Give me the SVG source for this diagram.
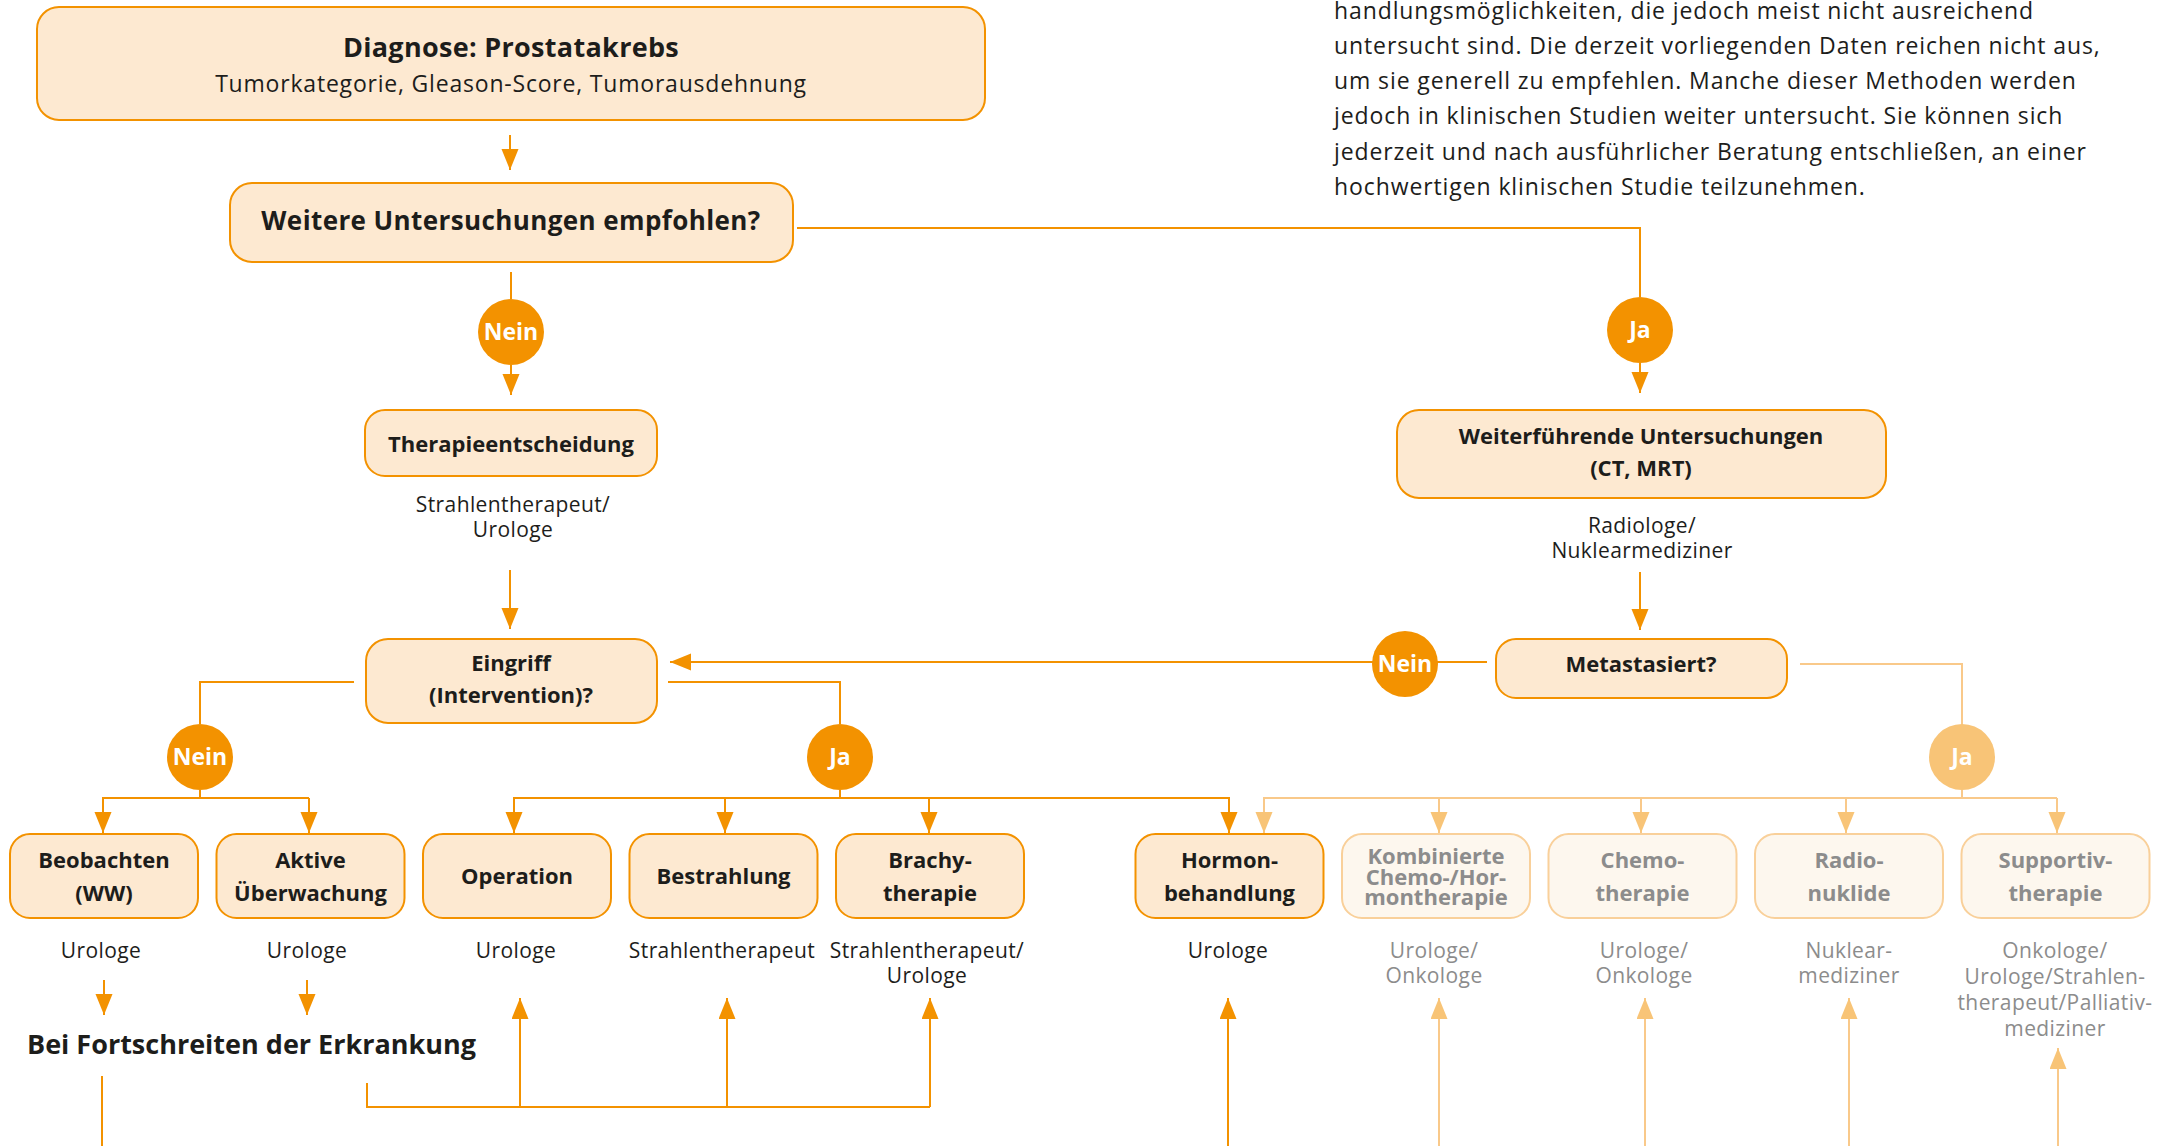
<svg xmlns="http://www.w3.org/2000/svg" width="2166" height="1146" viewBox="0 0 2166 1146">
<defs>
<marker id="ad" markerUnits="userSpaceOnUse" markerWidth="22" markerHeight="18" refX="21" refY="8.5" orient="auto"><path d="M0,0 L21,8.5 L0,17 z" fill="#f39200"/></marker>
<marker id="al" markerUnits="userSpaceOnUse" markerWidth="22" markerHeight="18" refX="21" refY="8.5" orient="auto"><path d="M0,0 L21,8.5 L0,17 z" fill="#f8c477"/></marker>
</defs>
<style>
text{font-family:"Open Sans","Noto Sans","Liberation Sans",sans-serif;fill:#1d1d1b;text-anchor:middle}
.b{font-weight:700}
.box{fill:#fde9d1;stroke:#f39200;stroke-width:2}
.fbox{fill:#fdf7ee;stroke:#f9d09a;stroke-width:2}
.ft{fill:#8c8c8c}
.lbl{font-size:22px;font-weight:700}
.sp{font-size:21px;letter-spacing:0.4px}
.c{fill:#f39200}
.cl{fill:#f8c477}
.ct{fill:#fff;font-weight:700;font-size:23px}
.ln{fill:none;stroke:#f39200;stroke-width:2}
.ll{fill:none;stroke:#f9c98a;stroke-width:2}
.para{font-size:23px;letter-spacing:0.9px;text-anchor:start}
</style>

<g id="paragraph">
<text class="para" x="1334" y="19">handlungsmöglichkeiten, die jedoch meist nicht ausreichend</text>
<text class="para" x="1334" y="54">untersucht sind. Die derzeit vorliegenden Daten reichen nicht aus,</text>
<text class="para" x="1334" y="89">um sie generell zu empfehlen. Manche dieser Methoden werden</text>
<text class="para" x="1334" y="124">jedoch in klinischen Studien weiter untersucht. Sie können sich</text>
<text class="para" x="1334" y="160">jederzeit und nach ausführlicher Beratung entschließen, an einer</text>
<text class="para" x="1334" y="195">hochwertigen klinischen Studie teilzunehmen.</text>
</g>

<g id="connectors">
<line class="ln" x1="510" y1="135" x2="510" y2="170" marker-end="url(#ad)"/>
<line class="ln" x1="511" y1="272" x2="511" y2="299"/>
<line class="ln" x1="511" y1="365" x2="511" y2="395" marker-end="url(#ad)"/>
<polyline class="ln" points="797,228 1640,228 1640,297"/>
<line class="ln" x1="1640" y1="363" x2="1640" y2="393" marker-end="url(#ad)"/>
<line class="ln" x1="510" y1="570" x2="510" y2="629" marker-end="url(#ad)"/>
<line class="ln" x1="1640" y1="572" x2="1640" y2="630" marker-end="url(#ad)"/>
<line class="ln" x1="1487" y1="662" x2="670" y2="662" marker-end="url(#ad)"/>
<polyline class="ln" points="354,682 200,682 200,724"/>
<polyline class="ln" points="668,682 840,682 840,724"/>
<line class="ln" x1="200" y1="790" x2="200" y2="798"/>
<line class="ln" x1="840" y1="790" x2="840" y2="798"/>
<line class="ln" x1="102" y1="798" x2="309" y2="798"/>
<line class="ln" x1="103" y1="798" x2="103" y2="833" marker-end="url(#ad)"/>
<line class="ln" x1="309" y1="798" x2="309" y2="833" marker-end="url(#ad)"/>
<line class="ln" x1="513" y1="798" x2="1229" y2="798"/>
<line class="ln" x1="514" y1="798" x2="514" y2="833" marker-end="url(#ad)"/>
<line class="ln" x1="725" y1="798" x2="725" y2="833" marker-end="url(#ad)"/>
<line class="ln" x1="929" y1="798" x2="929" y2="833" marker-end="url(#ad)"/>
<line class="ln" x1="1229" y1="797" x2="1229" y2="833" marker-end="url(#ad)"/>
<polyline class="ll" points="1800,664 1962,664 1962,725"/>
<line class="ll" x1="1962" y1="790" x2="1962" y2="798"/>
<polyline class="ll" points="1264,833 1264,798 2057,798"/>
<line class="ll" x1="1264" y1="798" x2="1264" y2="833" marker-end="url(#al)"/>
<line class="ll" x1="1439" y1="798" x2="1439" y2="833" marker-end="url(#al)"/>
<line class="ll" x1="1641" y1="798" x2="1641" y2="833" marker-end="url(#al)"/>
<line class="ll" x1="1846" y1="798" x2="1846" y2="833" marker-end="url(#al)"/>
<line class="ll" x1="2057" y1="798" x2="2057" y2="833" marker-end="url(#al)"/>
<line class="ln" x1="104" y1="980" x2="104" y2="1015" marker-end="url(#ad)"/>
<line class="ln" x1="307" y1="980" x2="307" y2="1015" marker-end="url(#ad)"/>
<line class="ln" x1="102" y1="1076" x2="102" y2="1146"/>
<polyline class="ln" points="367,1083 367,1107 930,1107"/>
<line class="ln" x1="520" y1="1107" x2="520" y2="998" marker-end="url(#ad)"/>
<line class="ln" x1="727" y1="1107" x2="727" y2="998" marker-end="url(#ad)"/>
<line class="ln" x1="930" y1="1107" x2="930" y2="998" marker-end="url(#ad)"/>
<line class="ln" x1="1228" y1="1146" x2="1228" y2="998" marker-end="url(#ad)"/>
<line class="ll" x1="1439" y1="1146" x2="1439" y2="998" marker-end="url(#al)"/>
<line class="ll" x1="1645" y1="1146" x2="1645" y2="998" marker-end="url(#al)"/>
<line class="ll" x1="1849" y1="1146" x2="1849" y2="998" marker-end="url(#al)"/>
<line class="ll" x1="2058" y1="1146" x2="2058" y2="1048" marker-end="url(#al)"/>
</g>

<g id="n-diagnose">
<rect class="box" x="37" y="7" width="948" height="113" rx="22"/>
<text class="b" x="511" y="57" font-size="27" letter-spacing="0.3">Diagnose: Prostatakrebs</text>
<text x="511" y="92" font-size="23" letter-spacing="0.8">Tumorkategorie, Gleason-Score, Tumorausdehnung</text>
</g>
<g id="n-weitere">
<rect class="box" x="230" y="183" width="563" height="79" rx="22"/>
<text class="b" x="511" y="230" font-size="26" letter-spacing="0.4">Weitere Untersuchungen empfohlen?</text>
</g>
<g id="c-nein1"><circle class="c" cx="511" cy="332" r="33"/><text class="ct" x="511" y="340">Nein</text></g>
<g id="c-ja1"><circle class="c" cx="1640" cy="330" r="33"/><text class="ct" x="1640" y="338">Ja</text></g>
<g id="n-therapie">
<rect class="box" x="365" y="410" width="292" height="66" rx="20"/>
<text class="lbl" x="511" y="452">Therapieentscheidung</text>
<text class="sp" x="513" y="512">Strahlentherapeut/</text>
<text class="sp" x="513" y="537">Urologe</text>
</g>
<g id="n-weiterfuehrend">
<rect class="box" x="1397" y="410" width="489" height="88" rx="22"/>
<text class="lbl" x="1641" y="444">Weiterführende Untersuchungen</text>
<text class="lbl" x="1641" y="476">(CT, MRT)</text>
<text class="sp" x="1642" y="533">Radiologe/</text>
<text class="sp" x="1642" y="558">Nuklearmediziner</text>
</g>
<g id="n-eingriff">
<rect class="box" x="366" y="639" width="291" height="84" rx="22"/>
<text class="lbl" x="511" y="671">Eingriff</text>
<text class="lbl" x="511" y="703">(Intervention)?</text>
</g>
<g id="n-metastasiert">
<rect class="box" x="1496" y="639" width="291" height="59" rx="20"/>
<text class="lbl" x="1641" y="672">Metastasiert?</text>
</g>
<g id="c-nein2"><circle class="c" cx="1405" cy="664" r="33"/><text class="ct" x="1405" y="672">Nein</text></g>
<g id="c-nein3"><circle class="c" cx="200" cy="757" r="33"/><text class="ct" x="200" y="765">Nein</text></g>
<g id="c-ja2"><circle class="c" cx="840" cy="757" r="33"/><text class="ct" x="840" y="765">Ja</text></g>
<g id="c-ja3"><circle class="cl" cx="1962" cy="757" r="33"/><text class="ct" x="1962" y="765">Ja</text></g>

<g id="n-beobachten">
<rect class="box" x="10" y="834" width="188" height="84" rx="20"/>
<text class="lbl" x="104" y="868">Beobachten</text>
<text class="lbl" x="104" y="901">(WW)</text>
<text class="sp" x="101" y="958">Urologe</text>
</g>
<g id="n-aktive">
<rect class="box" x="216.5" y="834" width="188" height="84" rx="20"/>
<text class="lbl" x="310.5" y="868">Aktive</text>
<text class="lbl" x="310.5" y="901">Überwachung</text>
<text class="sp" x="307" y="958">Urologe</text>
</g>
<g id="n-operation">
<rect class="box" x="423" y="834" width="188" height="84" rx="20"/>
<text class="lbl" x="517" y="884">Operation</text>
<text class="sp" x="516" y="958">Urologe</text>
</g>
<g id="n-bestrahlung">
<rect class="box" x="629.5" y="834" width="188" height="84" rx="20"/>
<text class="lbl" x="723.5" y="884">Bestrahlung</text>
<text class="sp" x="722" y="958">Strahlentherapeut</text>
</g>
<g id="n-brachy">
<rect class="box" x="836" y="834" width="188" height="84" rx="20"/>
<text class="lbl" x="930" y="868">Brachy-</text>
<text class="lbl" x="930" y="901">therapie</text>
<text class="sp" x="927" y="958">Strahlentherapeut/</text>
<text class="sp" x="927" y="983">Urologe</text>
</g>
<g id="n-hormon">
<rect class="box" x="1135.5" y="834" width="188" height="84" rx="20"/>
<text class="lbl" x="1229.5" y="868">Hormon-</text>
<text class="lbl" x="1229.5" y="901">behandlung</text>
<text class="sp" x="1228" y="958">Urologe</text>
</g>
<g id="n-kombiniert">
<rect class="fbox" x="1342" y="834" width="188" height="84" rx="20"/>
<text class="lbl ft" x="1436" y="864" font-size="20">Kombinierte</text>
<text class="lbl ft" x="1436" y="884.5" font-size="20">Chemo-/Hor-</text>
<text class="lbl ft" x="1436" y="905" font-size="20">montherapie</text>
<text class="sp ft" x="1434" y="958">Urologe/</text>
<text class="sp ft" x="1434" y="983">Onkologe</text>
</g>
<g id="n-chemo">
<rect class="fbox" x="1548.5" y="834" width="188" height="84" rx="20"/>
<text class="lbl ft" x="1642.5" y="868">Chemo-</text>
<text class="lbl ft" x="1642.5" y="901">therapie</text>
<text class="sp ft" x="1644" y="958">Urologe/</text>
<text class="sp ft" x="1644" y="983">Onkologe</text>
</g>
<g id="n-radio">
<rect class="fbox" x="1755" y="834" width="188" height="84" rx="20"/>
<text class="lbl ft" x="1849" y="868">Radio-</text>
<text class="lbl ft" x="1849" y="901">nuklide</text>
<text class="sp ft" x="1849" y="958">Nuklear-</text>
<text class="sp ft" x="1849" y="983">mediziner</text>
</g>
<g id="n-supportiv">
<rect class="fbox" x="1961.5" y="834" width="188" height="84" rx="20"/>
<text class="lbl ft" x="2055.5" y="868">Supportiv-</text>
<text class="lbl ft" x="2055.5" y="901">therapie</text>
<text class="sp ft" x="2055" y="958">Onkologe/</text>
<text class="sp ft" x="2055" y="984">Urologe/Strahlen-</text>
<text class="sp ft" x="2055" y="1010">therapeut/Palliativ-</text>
<text class="sp ft" x="2055" y="1036">mediziner</text>
</g>
<g id="n-fortschreiten">
<text class="b" x="27" y="1054" font-size="27" style="text-anchor:start">Bei Fortschreiten der Erkrankung</text>
</g>
</svg>
